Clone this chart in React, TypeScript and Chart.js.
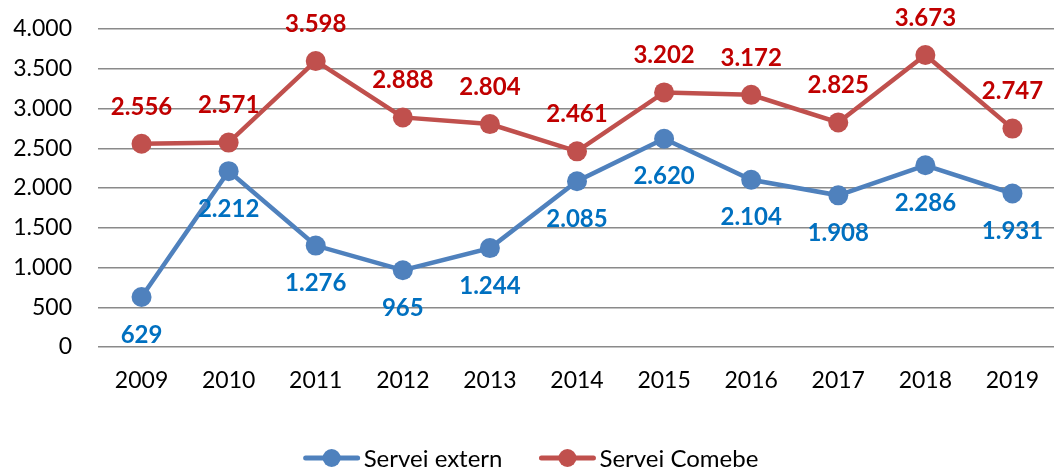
import React, { useEffect, useRef } from "react";
import { Chart, registerables } from "chart.js";

Chart.register(...registerables);

const years = ["2009", "2010", "2011", "2012", "2013", "2014", "2015", "2016", "2017", "2018", "2019"];
const serveiExtern = [629, 2212, 1276, 965, 1244, 2085, 2620, 2104, 1908, 2286, 1931];
const serveiComebe = [2556, 2571, 3598, 2888, 2804, 2461, 3202, 3172, 2825, 3673, 2747];
const seriesNames = ["Servei extern", "Servei Comebe"];
const lineColors = ["#4F81BD", "#C0504D"];
const labelColors = ["#0070C0", "#C00000"];

const FONT = "Lato, 'Open Sans', sans-serif";

function fmt(v: number): string {
  const s = Math.round(v).toString();
  return s.replace(/\B(?=(\d{3})+(?!\d))/g, ".");
}

const labelPlugin = {
  id: "valueLabels",
  afterDatasetsDraw(chart: any) {
    const ctx = chart.ctx;
    ctx.save();
    ctx.font = `bold 24px ${FONT}`;
    ctx.textAlign = "center";
    ctx.textBaseline = "middle";
    chart.data.datasets.forEach((ds: any, i: number) => {
      const meta = chart.getDatasetMeta(i);
      ctx.fillStyle = labelColors[i];
      meta.data.forEach((pt: any, j: number) => {
        const off = i === 0 ? 38 : -37;
        ctx.fillText(fmt(ds.data[j]), pt.x, pt.y + off);
      });
    });
    ctx.restore();
  },
};

const legendPlugin = {
  id: "customLegend",
  afterDraw(chart: any) {
    const ctx = chart.ctx;
    ctx.save();
    ctx.font = `24px ${FONT}`;
    ctx.textBaseline = "middle";
    const lineW = 56;
    const gap = 4;
    const itemGap = 37;
    const widths = chart.data.datasets.map((ds: any) => lineW + gap + ctx.measureText(ds.label).width);
    const total = widths.reduce((a: number, b: number) => a + b, 0) + itemGap * (widths.length - 1);
    let x = 531 - total / 2;
    const y = 458;
    chart.data.datasets.forEach((ds: any, i: number) => {
      ctx.strokeStyle = lineColors[i];
      ctx.lineWidth = 5;
      ctx.lineCap = "round";
      ctx.beginPath();
      ctx.moveTo(x + 2, y);
      ctx.lineTo(x + lineW - 2, y);
      ctx.stroke();
      ctx.fillStyle = lineColors[i];
      ctx.beginPath();
      ctx.arc(x + lineW / 2, y, 9, 0, Math.PI * 2);
      ctx.fill();
      ctx.fillStyle = "#000";
      ctx.textAlign = "left";
      ctx.fillText(ds.label, x + lineW + gap, y + 1);
      x += widths[i] + itemGap;
    });
    ctx.restore();
  },
};

export default function App() {
  const ref = useRef<HTMLCanvasElement | null>(null);
  useEffect(() => {
    if (!ref.current) return;
    const chart = new Chart(ref.current, {
      type: "line",
      data: {
        labels: years,
        datasets: [
          {
            label: seriesNames[0],
            data: serveiExtern,
            borderColor: lineColors[0],
            backgroundColor: lineColors[0],
            borderWidth: 4.5,
            pointRadius: 10,
            pointBorderWidth: 0,
            pointBackgroundColor: lineColors[0],
            tension: 0,
          },
          {
            label: seriesNames[1],
            data: serveiComebe,
            borderColor: lineColors[1],
            backgroundColor: lineColors[1],
            borderWidth: 4.5,
            pointRadius: 10,
            pointBorderWidth: 0,
            pointBackgroundColor: lineColors[1],
            tension: 0,
          },
        ],
      },
      options: {
        responsive: false,
        animation: false,
        devicePixelRatio: 1,
        layout: { padding: { top: 29, right: 3, bottom: 0, left: 0 } },
        plugins: {
          legend: { display: false },
          tooltip: { enabled: false },
        },
        scales: {
          x: {
            type: "category",
            offset: true,
            grid: { display: false, drawTicks: false },
            border: { display: false },
            ticks: { color: "#000", font: { family: FONT, size: 23 }, padding: 20, maxRotation: 0 },
            afterFit: (s: any) => {
              s.height = 122;
              s.paddingLeft = 0;
              s.paddingRight = 0;
            },
          },
          y: {
            min: 0,
            max: 4000,
            grid: { color: "#8a8a8a", lineWidth: 1.5, drawTicks: false },
            border: { display: false },
            ticks: {
              stepSize: 500,
              color: "#000",
              font: { family: FONT, size: 23 },
              padding: 26,
              callback: (v: any) => fmt(Number(v)),
            },
            afterFit: (s: any) => {
              s.width = 98;
              s.paddingTop = 0;
              s.paddingBottom = 0;
            },
          },
        },
      },
      plugins: [labelPlugin, legendPlugin],
    });
    return () => chart.destroy();
  }, []);
  return (
    <div
      style={{
        position: "fixed",
        left: 0,
        top: 0,
        width: 1054,
        height: 469,
        overflow: "hidden",
        background: "#fff",
      }}
    >
      <canvas ref={ref} width={1066} height={469} style={{ display: "block" }} />
    </div>
  );
}
